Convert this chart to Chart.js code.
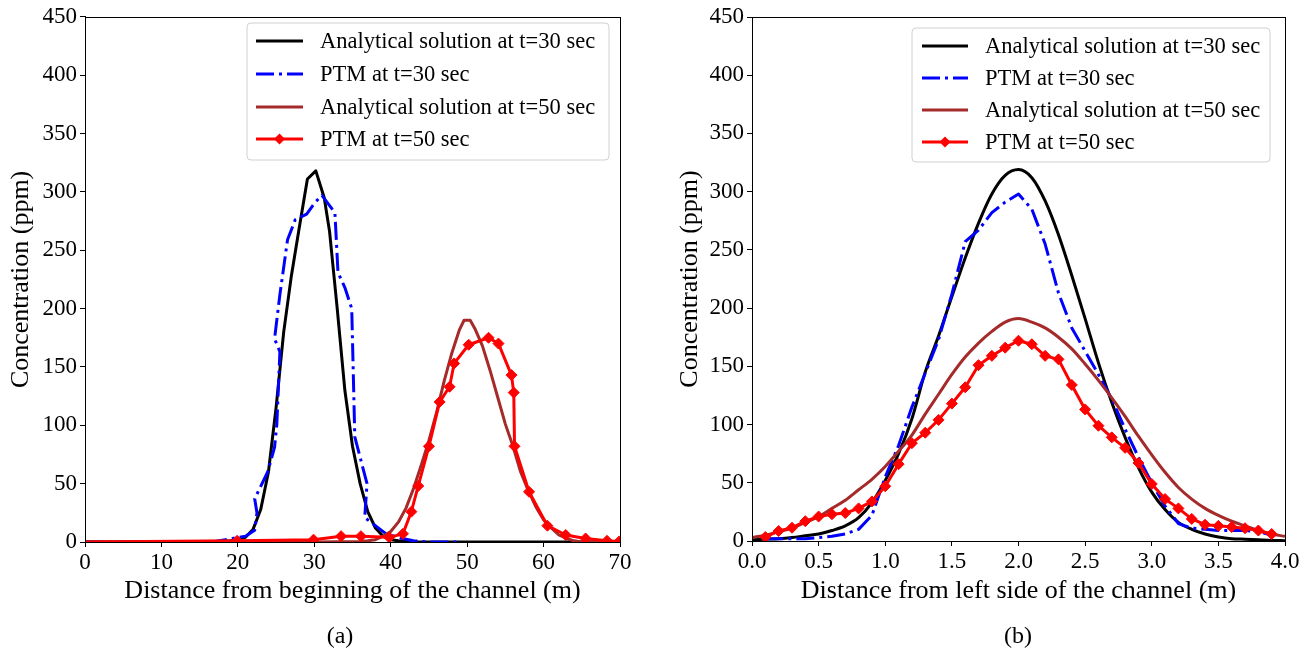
<!DOCTYPE html>
<html><head><meta charset="utf-8">
<script src="https://cdn.jsdelivr.net/npm/chart.js@4.4.1/dist/chart.umd.min.js"></script>
<style>
html,body{margin:0;padding:0;background:#fff;width:1307px;height:657px;overflow:hidden;}
.box{position:absolute;}
.cap{position:absolute;font-family:"Liberation Serif","Times New Roman",serif;font-size:24px;color:#000;transform:translate(-50%,-50%);white-space:nowrap;}
</style></head><body>
<div class="box" style="left:0;top:0;width:640px;height:657px"><canvas id="ca"></canvas></div>
<div class="box" style="left:660px;top:0;width:647px;height:657px"><canvas id="cb"></canvas></div>
<div class="cap" style="left:340px;top:635px">(a)</div>
<div class="cap" style="left:1018px;top:635px">(b)</div>
<script>
// ---------- DATA (a): along the channel ----------
const seriesNames = ["Analytical solution at t=30 sec", "PTM at t=30 sec", "Analytical solution at t=50 sec", "PTM at t=50 sec"];
const yTickValues = [0, 50, 100, 150, 200, 250, 300, 350, 400, 450];

const leftBlackX = [0, 10, 17, 18, 19, 20, 21, 22, 23, 24, 25, 26, 27, 28, 29.1, 30.2, 31.3, 32, 33, 34, 35, 36, 37, 38, 39, 40, 41, 42, 43, 50, 60, 70];
const leftBlackY = [0, 0, 0, 0.5, 1, 2, 4, 11, 28, 60, 115, 180, 228, 268, 311, 318, 295, 266, 200, 130, 82, 50, 26, 12, 5, 2, 1, 0.5, 0, 0, 0, 0];

const leftBlueX = [0, 10, 17, 19.3, 21, 22.2, 22.5, 22.2, 23.9, 24.8, 25.1, 25.5, 24.8, 25.5, 26.5, 27.5, 29.0, 30.1, 31.0, 32.7, 33.1, 34.0, 34.9, 35.3, 36.9, 36.6, 37.6, 39.4, 41.5, 43, 45, 49];
const leftBlueY = [0, 0, 0.5, 3, 5, 10, 25, 37, 60, 81, 101, 163, 174, 212, 259, 276, 281, 291, 297, 282, 231, 218, 200, 90, 50, 21, 16, 7, 3, 1, 0, 0];

const leftBrownX = [0, 30, 36, 37, 38, 39, 40, 41, 42, 43, 44, 45, 46, 47, 48, 49, 49.6, 50.4, 51, 52, 53, 54, 55, 56, 57, 58, 59, 60, 61, 62, 63, 64, 65, 70];
const leftBrownY = [0, 0, 0.5, 1, 2, 5, 9, 17, 29, 46, 66, 87, 111, 138, 162, 182, 190, 190, 183, 168, 147, 124, 101, 82, 60, 44, 30, 19, 12, 6, 3, 1, 0, 0];

const leftRedX = [0, 19.9, 29.9, 33.5, 36.1, 39.8, 41.6, 42.7, 43.6, 45.0, 46.4, 47.7, 48.3, 50.2, 52.8, 54.1, 55.8, 56.1, 56.2, 58.1, 60.5, 62.9, 65.5, 68.3, 69.9];
const leftRedY = [0, 1, 2, 5, 5, 4, 7, 26, 48, 82, 120, 133, 153, 169, 175, 170, 143, 128, 82, 43, 14, 6, 3, 1, 0.5];

// ---------- DATA (b): across the channel ----------
const rightX = [0.0, 0.1, 0.2, 0.3, 0.4, 0.5, 0.6, 0.7, 0.8, 0.9, 1.0, 1.1, 1.2, 1.3, 1.4, 1.5, 1.6, 1.7, 1.8, 1.9, 2.0, 2.1, 2.2, 2.3, 2.4, 2.5, 2.6, 2.7, 2.8, 2.9, 3.0, 3.1, 3.2, 3.3, 3.4, 3.5, 3.6, 3.7, 3.8, 3.9, 4.0];
const rightBlack = [1, 1.5, 2, 3, 4.5, 6, 9, 13, 20, 33, 52, 75, 105, 145, 176, 210, 243, 273, 298, 314, 319, 312, 292, 263, 228, 191, 153, 119, 89, 63, 42, 27, 16, 10, 6, 3.5, 2, 1.5, 1, 0.5, 0.3];
const rightBrown = [3, 5, 8, 11, 16, 21, 28, 35, 44, 53, 64, 77, 91, 109, 126, 143, 158, 170, 180, 188, 191, 188, 183, 175, 165, 152, 138, 123, 107, 90, 74, 59, 46, 36, 28, 22, 17, 13, 9, 6, 4];
const rightBlueX = [0.1, 0.2, 0.3, 0.4, 0.5, 0.6, 0.7, 0.8, 0.9, 1.0, 1.1, 1.2, 1.3, 1.4, 1.5, 1.6, 1.7, 1.8, 1.9, 2.0, 2.1, 2.2, 2.3, 2.4, 2.5, 2.6, 2.7, 2.8, 2.9, 3.0, 3.1, 3.2, 3.3, 3.4, 3.5, 3.6, 3.7, 3.8, 3.9];
const rightBlue = [2, 2, 2, 2, 3, 4, 6, 10, 22, 55, 82, 115, 144, 173, 212, 257, 267, 282, 291, 298, 285, 255, 213, 183, 163, 143, 122, 96, 72, 50, 30, 15, 11, 10, 9, 9, 9, 8, 5];
const rightRedX = rightBlueX;
const rightRed = [3.4, 8.6, 11.4, 17, 21, 23, 24, 28, 34, 47, 66, 84, 93, 104, 118, 132, 151, 159, 166, 172, 169, 159, 156, 134, 113, 99, 89, 80, 67, 49, 36, 28, 19, 14, 13, 12, 11, 9, 6];

// ---------- helpers ----------
const FONT = '"Liberation Serif", "Times New Roman", serif';
Chart.defaults.font.family = FONT;
Chart.defaults.color = '#000';
const pts = (xs, ys) => xs.map((x, i) => ({x: x, y: ys[i]}));

const COLORS = ['#000000', '#0000ff', '#a52a2a', '#ff0000'];
const DASH = [18, 5, 3, 5];
const LW = 3;

function makeSets(bx, by, ux, uy, wx, wy, rx, ry, smooth, redFirstHidden) {
  const base = {fill: false, pointRadius: 0, borderJoinStyle: 'round', borderCapStyle: 'butt'};
  return [
    Object.assign({}, base, {label: seriesNames[0], data: pts(bx, by), borderColor: COLORS[0], borderWidth: LW, order: 4, cubicInterpolationMode: smooth ? 'monotone' : 'default'}),
    Object.assign({}, base, {label: seriesNames[1], data: pts(ux, uy), borderColor: COLORS[1], borderWidth: LW, borderDash: DASH, order: 3}),
    Object.assign({}, base, {label: seriesNames[2], data: pts(wx, wy), borderColor: COLORS[2], borderWidth: LW, order: 2, cubicInterpolationMode: smooth ? 'monotone' : 'default'}),
    Object.assign({}, base, {label: seriesNames[3], data: pts(rx, ry), borderColor: COLORS[3], backgroundColor: COLORS[3], borderWidth: LW, order: 1,
      pointStyle: 'rectRot', pointRadius: rx.map((x, i) => (redFirstHidden && i === 0) ? 0 : 5.5), pointBorderWidth: 1, legendMarker: true})
  ];
}

const boxPlugin = {
  id: 'boxLegend',
  afterDraw(chart, args, o) {
    const ctx = chart.ctx, a = chart.chartArea;
    ctx.save();
    ctx.strokeStyle = '#000'; ctx.lineWidth = 1; ctx.setLineDash([]);
    ctx.strokeRect(Math.round(a.left) + 0.5, Math.round(a.top) + 0.5, Math.round(a.right - a.left), Math.round(a.bottom - a.top));
    const r = 4, x = o.x, y = o.y, w = o.w, h = o.h;
    ctx.beginPath();
    ctx.moveTo(x + r, y); ctx.lineTo(x + w - r, y); ctx.quadraticCurveTo(x + w, y, x + w, y + r);
    ctx.lineTo(x + w, y + h - r); ctx.quadraticCurveTo(x + w, y + h, x + w - r, y + h);
    ctx.lineTo(x + r, y + h); ctx.quadraticCurveTo(x, y + h, x, y + h - r);
    ctx.lineTo(x, y + r); ctx.quadraticCurveTo(x, y, x + r, y); ctx.closePath();
    ctx.fillStyle = 'rgba(255,255,255,0.85)'; ctx.fill();
    ctx.strokeStyle = '#d0d0d0'; ctx.lineWidth = 1; ctx.stroke();
    chart.data.datasets.forEach((ds, i) => {
      const yy = o.rows[i];
      ctx.beginPath();
      ctx.setLineDash(ds.borderDash || []);
      ctx.strokeStyle = ds.borderColor; ctx.lineWidth = ds.borderWidth;
      ctx.moveTo(o.lx1, yy); ctx.lineTo(o.lx2, yy); ctx.stroke();
      ctx.setLineDash([]);
      if (ds.legendMarker) {
        const cx = (o.lx1 + o.lx2) / 2, m = 5.5;
        ctx.beginPath(); ctx.moveTo(cx, yy - m); ctx.lineTo(cx + m, yy); ctx.lineTo(cx, yy + m); ctx.lineTo(cx - m, yy); ctx.closePath();
        ctx.fillStyle = ds.borderColor; ctx.fill();
      }
      ctx.fillStyle = '#000'; ctx.font = '22.5px ' + FONT; ctx.textBaseline = 'middle'; ctx.textAlign = 'left';
      ctx.fillText(ds.label, o.tx, yy + 1);
    });
    ctx.restore();
  }
};

function makeChart(id, sets, xOpts, yWidth, pad, legend, yTitlePad, xHeight) {
  return new Chart(document.getElementById(id), {
    type: 'line',
    data: {datasets: sets},
    plugins: [boxPlugin],
    options: {
      responsive: true, maintainAspectRatio: false, animation: false, devicePixelRatio: 1,
      layout: {padding: pad},
      plugins: {legend: {display: false}, tooltip: {enabled: false}, boxLegend: legend},
      scales: {
        x: Object.assign({
          type: 'linear',
          grid: {display: true, drawOnChartArea: false, drawTicks: true, tickLength: 5, color: '#000', lineWidth: 1},
          border: {display: true, color: '#000', width: 1},
          afterFit(s) { s.height = xHeight; }
        }, xOpts),
        y: {
          type: 'linear', min: 0, max: 450,
          afterBuildTicks(s) { s.ticks = yTickValues.map(v => ({value: v})); },
          ticks: {font: {size: 23}, color: '#000', padding: 3, callback: v => String(v)},
          grid: {display: true, drawOnChartArea: false, drawTicks: true, tickLength: 5, color: '#000', lineWidth: 1},
          border: {display: true, color: '#000', width: 1},
          title: {display: true, text: 'Concentration (ppm)', font: {size: 26}, color: '#000', padding: {top: yTitlePad, bottom: 0}},
          afterFit(s) { s.width = yWidth; }
        }
      }
    }
  });
}

makeChart('ca',
  makeSets(leftBlackX, leftBlackY, leftBlueX, leftBlueY, leftBrownX, leftBrownY, leftRedX, leftRedY, false, true),
  {min: 0, max: 70, ticks: {stepSize: 10, font: {size: 23}, color: '#000', padding: 2, maxRotation: 0, autoSkip: false},
   title: {display: true, text: 'Distance from beginning of the channel (m)', font: {size: 26}, color: '#000', padding: {top: 0, bottom: 4}}},
  85, {left: 0, right: 20, top: 13, bottom: 46},
  {x: 247, y: 23, w: 362, h: 137, lx1: 256, lx2: 303, tx: 320, rows: [41, 74, 107, 139]},
  6, 69);

makeChart('cb',
  makeSets(rightX, rightBlack, rightBlueX, rightBlue, rightX, rightBrown, rightRedX, rightRed, true, false),
  {min: 0, max: 4, ticks: {stepSize: 0.5, font: {size: 23}, color: '#000', padding: 2, maxRotation: 0, autoSkip: false, callback: v => Number(v).toFixed(1)},
   title: {display: true, text: 'Distance from left side of the channel (m)', font: {size: 26}, color: '#000', padding: {top: 0, bottom: 4}}},
  92, {left: 0, right: 22, top: 17, bottom: 46},
  {x: 252, y: 28, w: 358, h: 134, lx1: 262, lx2: 308, tx: 325, rows: [46, 78, 110, 142]},
  15, 70);
</script>
</body></html>
